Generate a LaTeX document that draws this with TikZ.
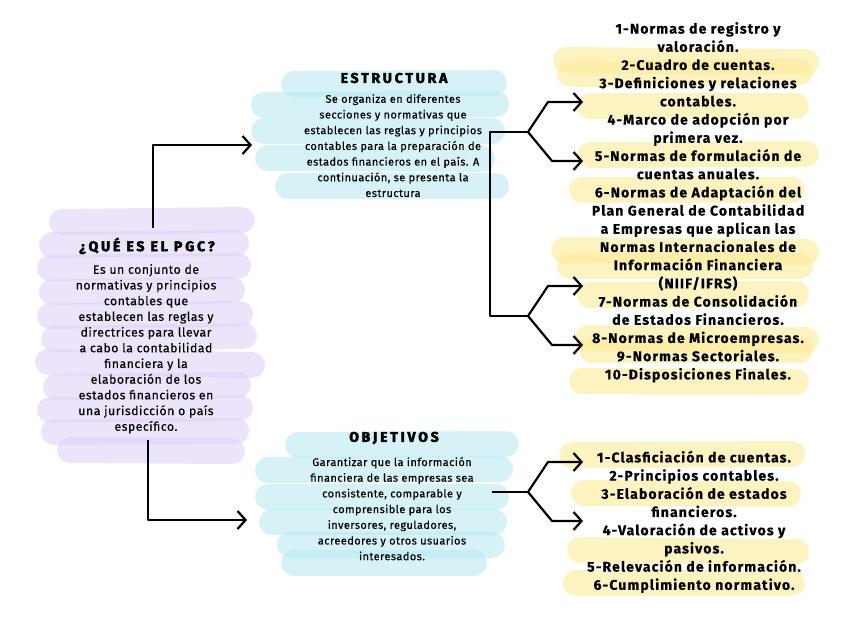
\documentclass[tikz,border=0pt]{standalone}
\usepackage{fontspec}
\setmainfont{Fira Sans}
\newfontfamily\headfont[LetterSpace=20,FakeBold=3,BoldFeatures={FakeBold=3}]{Fira Sans}
\newfontfamily\bodyfont[LetterSpace=4,FakeBold=0.4]{Fira Sans}
\newfontfamily\listfont[LetterSpace=8,FakeBold=0.5]{Fira Sans}
\usetikzlibrary{arrows.meta,positioning}

\definecolor{lila}{HTML}{E0D2F7}
\definecolor{celeste}{HTML}{BAEAF2}
\definecolor{amarillo}{HTML}{FCEB98}

\tikzset{
    pincel/.style={line width=26pt, line cap=round, opacity=.6},
    titulo/.style={inner sep=0pt, font=\headfont\bfseries\fontsize{14}{16}\selectfont},
    cuerpo/.style={inner sep=0pt, align=center, font=\bodyfont\fontsize{11}{15.7}\selectfont},
    cuerpogrande/.style={cuerpo, font=\bodyfont\fontsize{12.3}{15.7}\selectfont},
    lista/.style={inner sep=0pt, align=center, font=\listfont\bfseries\fontsize{14}{18.2}\selectfont},
    linea/.style={line width=2.2pt, line join=round},
    flecha/.style={linea, -{Straight Barb[length=8pt,width=18pt,line width=2.2pt]}}
}

\begin{document}
\begin{tikzpicture}[x=1pt,y=-1pt]
    \useasboundingbox (0,0) rectangle (848,636);

    % trazos de fondo
    \foreach \xa/\ya/\xb/\yb in {62/222/242/220, 52/245/236/243, 50/268/238/266, 52/292/232/290,
        50/316/240/314, 54/339/244/336, 48/362/252/365, 56/387/238/385, 50/410/240/408,
        54/432/236/431, 70/450/232/451}
        \draw[pincel, lila] (\xa,\ya) -- (\xb,\yb);
    \foreach \xa/\ya/\xb/\yb in {294/84/494/83, 264/105/496/104, 264/131/492/131, 268/158/482/159,
        288/186/496/186}
        \draw[pincel, celeste] (\xa,\ya) -- (\xb,\yb);
    \foreach \xa/\ya/\xb/\yb in {298/445/506/444, 268/470/500/469, 268/497/496/497, 272/522/494/522,
        290/545/492/545, 294/563/474/563}
        \draw[pincel, celeste] (\xa,\ya) -- (\xb,\yb);
    \foreach \xa/\ya/\xb/\yb in {566/60/806/62, 570/74/800/72, 590/106/796/106, 590/155/806/154,
        582/190/792/190, 564/250/806/252, 570/266/800/266, 590/295/796/294, 588/338/806/340,
        592/350/800/350, 582/381/796/382,
        572/455/792/454, 584/493/788/494, 580/550/796/552, 576/583/792/583}
        \draw[pincel, amarillo] (\xa,\ya) -- (\xb,\yb);

    % nodo central
    \node[titulo] (pgc) at (147,246) {¿QUÉ ES EL PGC?};
    \node[cuerpogrande, anchor=north] (pgctxt) at (146,264) {Es un conjunto de\\normativas y principios\\contables que\\establecen las reglas y\\directrices para llevar\\a cabo la contabilidad\\financiera y la\\elaboración de los\\estados financieros en\\una jurisdicción o país\\específico.};

    % estructura
    \node[titulo] (estr) at (394,78) {ESTRUCTURA};
    \node[cuerpo, anchor=north] (estrtxt) at (393,94) {Se organiza en diferentes\\secciones y normativas que\\establecen las reglas y principios\\contables para la preparación de\\estados financieros en el país. A\\continuación, se presenta la\\estructura};

    % objetivos
    \node[titulo] (obj) at (394,438) {OBJETIVOS};
    \node[cuerpo, anchor=north] (objtxt) at (392,457) {Garantizar que la información\\financiera de las empresas sea\\consistente, comparable y\\comprensible para los\\inversores, reguladores,\\acreedores y otros usuarios\\interesados.};

    % listas
    \node[lista, anchor=north] (estrlista) at (698,22) {1-Normas de registro y\\valoración.\\2-Cuadro de cuentas.\\3-Definiciones y relaciones\\contables.\\4-Marco de adopción por\\primera vez.\\5-Normas de formulación de\\cuentas anuales.\\6-Normas de Adaptación del\\Plan General de Contabilidad\\a Empresas que aplican las\\Normas Internacionales de\\Información Financiera\\(NIIF/IFRS)\\7-Normas de Consolidación\\de Estados Financieros.\\8-Normas de Microempresas.\\9-Normas Sectoriales.\\10-Disposiciones Finales.};
    \node[lista, anchor=north] (objlista) at (694,450.5) {1-Clasficiación de cuentas.\\2-Principios contables.\\3-Elaboración de estados\\financieros.\\4-Valoración de activos y\\pasivos.\\5-Relevación de información.\\6-Cumplimiento normativo.};

    % conectores
    \coordinate (pgcarriba) at (153,228);
    \coordinate (pgcabajo) at (148,440);
    \coordinate (estrin) at (252,145);
    \coordinate (objin) at (247,520);
    \draw[flecha] (pgcarriba) |- (estrin);
    \draw[flecha] (pgcabajo) |- (objin);

    \coordinate (ea) at (528,132);
    \coordinate (eb) at (528,316);
    \coordinate (oa) at (528,492);
    \draw[linea] (ea) -- (490,132) -- (490,316) -- (eb);
    \draw[linea] (492,492) -- (oa);
    \foreach \f in {ea,eb,oa} {
        \draw[flecha] (\f) -- ++(20,-30) -- ++(35,0);
        \draw[flecha] (\f) -- ++(24,29) -- ++(31,0);
    }
\end{tikzpicture}
\end{document}
